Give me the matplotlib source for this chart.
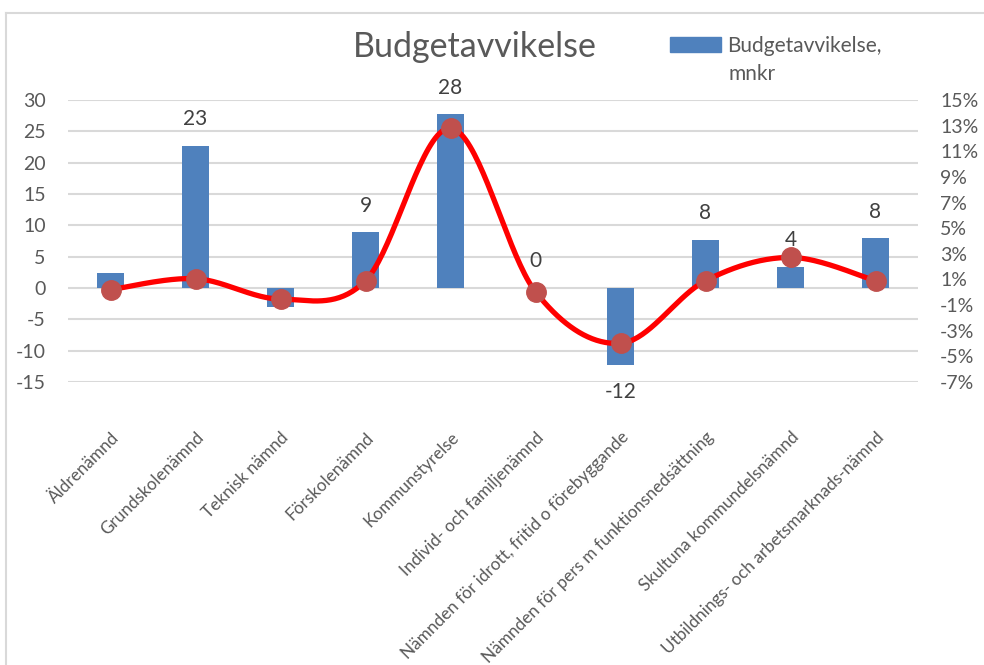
import matplotlib
matplotlib.use('Agg')
import matplotlib.pyplot as plt
from matplotlib.lines import Line2D
from matplotlib.patches import Patch
import numpy as np

plt.rcParams['font.family'] = ['Lato', 'DejaVu Sans']

categories = ['Äldrenämnd', 'Grundskolenämnd', 'Teknisk nämnd', 'Förskolenämnd',
              'Kommunstyrelse', 'Individ- och familjenämnd',
              'Nämnden för idrott, fritid o förebyggande',
              'Nämnden för pers m funktionsnedsättning',
              'Skultuna kommundelsnämnd', 'Utbildnings- och arbetsmarknads-nämnd']
avvikelse_mnkr = [2.4, 22.7, -3.1, 8.9, 27.7, 0.0, -12.3, 7.7, 3.4, 7.9]
bar_labels = ['', '23', '', '9', '28', '0', '-12', '8', '4', '8']
avvikelse_pct = [0.2, 1.06, -0.53, 0.9, 12.8, 0.04, -3.98, 0.9, 2.72, 0.9]

left_ticks = list(range(-15, 31, 5))
right_ticks = list(range(-7, 16, 2))

BLUE = '#4f81bd'
GRAY = '#595959'
GRID = '#d9d9d9'


def smooth(xs, ys, n=40):
    # Excel-style smoothed line: Catmull-Rom Bezier segments
    pts = np.column_stack([xs, ys]).astype(float)
    out = []
    for i in range(len(pts) - 1):
        p0 = pts[i - 1] if i > 0 else pts[i]
        p1, p2 = pts[i], pts[i + 1]
        p3 = pts[i + 2] if i + 2 < len(pts) else pts[i + 1]
        c1 = p1 + (p2 - p0) / 6
        c2 = p2 - (p3 - p1) / 6
        t = np.linspace(0, 1, n)[:, None]
        seg = ((1 - t) ** 3) * p1 + 3 * ((1 - t) ** 2) * t * c1 + 3 * (1 - t) * t ** 2 * c2 + t ** 3 * p2
        out.append(seg)
    s = np.vstack(out)
    return s[:, 0], s[:, 1]


fig = plt.figure(figsize=(9.84, 6.65), dpi=100)
ax = fig.add_axes([68 / 984, 1 - 382 / 665, 850 / 984, 282 / 665])
x = np.arange(len(categories))

ax.bar(x, avvikelse_mnkr, width=0.32, color=BLUE, zorder=2)
ax.set_ylim(-15, 30)
ax.set_xlim(-0.5, len(categories) - 0.5)
ax.set_yticks(left_ticks)
ax.set_yticklabels([str(t) for t in left_ticks])
ax.grid(axis='y', color=GRID, linewidth=1.5, zorder=0)
ax.set_axisbelow(True)
for s in ax.spines.values():
    s.set_visible(False)
ax.tick_params(axis='y', length=0, pad=16, labelsize=14, labelcolor=GRAY)
ax.tick_params(axis='x', length=0, pad=34, labelsize=12.3, labelcolor=GRAY)
ax.set_xticks(x)
ax.set_xticklabels(categories, rotation=45, ha='right', rotation_mode='anchor')

for xi, v, lab in zip(x, avvikelse_mnkr, bar_labels):
    if not lab:
        continue
    if v >= 0:
        ax.annotate(lab, (xi, v), xytext=(0, 12), textcoords='offset points',
                    ha='center', va='bottom', fontsize=15, color='#404040')
    else:
        ax.annotate(lab, (xi, v), xytext=(0, -12), textcoords='offset points',
                    ha='center', va='top', fontsize=15, color='#404040')

ax2 = ax.twinx()
ax2.set_ylim(-7, 15)
ax2.set_yticks(right_ticks)
ax2.set_yticklabels([f'{t}%' for t in right_ticks])
for s in ax2.spines.values():
    s.set_visible(False)
ax2.tick_params(axis='y', length=0, pad=16, labelsize=14, labelcolor=GRAY)

sx, sy = smooth(x, avvikelse_pct)
ax2.plot(sx, sy, color='#ff0000', linewidth=3.8, zorder=3, solid_capstyle='round')
ax2.plot(x, avvikelse_pct, linestyle='none', marker='o', markersize=14,
         color='#c0504d', zorder=4)

fig.text(475 / 984, 1 - 57 / 665, 'Budgetavvikelse', ha='center', va='baseline',
         fontsize=24.5, color=GRAY)

leg = fig.legend(handles=[Patch(color=BLUE)], labels=['Budgetavvikelse,'],
                 loc='upper left', bbox_to_anchor=(670 / 984, 1 - 36 / 665),
                 frameon=False, fontsize=15, handlelength=2.45, handleheight=0.7,
                 handletextpad=0.3, borderaxespad=0, borderpad=0)
for t in leg.get_texts():
    t.set_color(GRAY)
fig.text(728 / 984, 1 - 80 / 665, 'mnkr', ha='left', va='baseline',
         fontsize=15, color=GRAY)

# chart frame (left and top edges visible)
fig.add_artist(Line2D([6 / 984, 6 / 984], [0, 1 - 13 / 665], color=GRID,
                      linewidth=1.5, transform=fig.transFigure))
fig.add_artist(Line2D([6 / 984, 1], [1 - 13 / 665, 1 - 13 / 665], color=GRID,
                      linewidth=1.5, transform=fig.transFigure))

fig.savefig('out.png', dpi=100)
